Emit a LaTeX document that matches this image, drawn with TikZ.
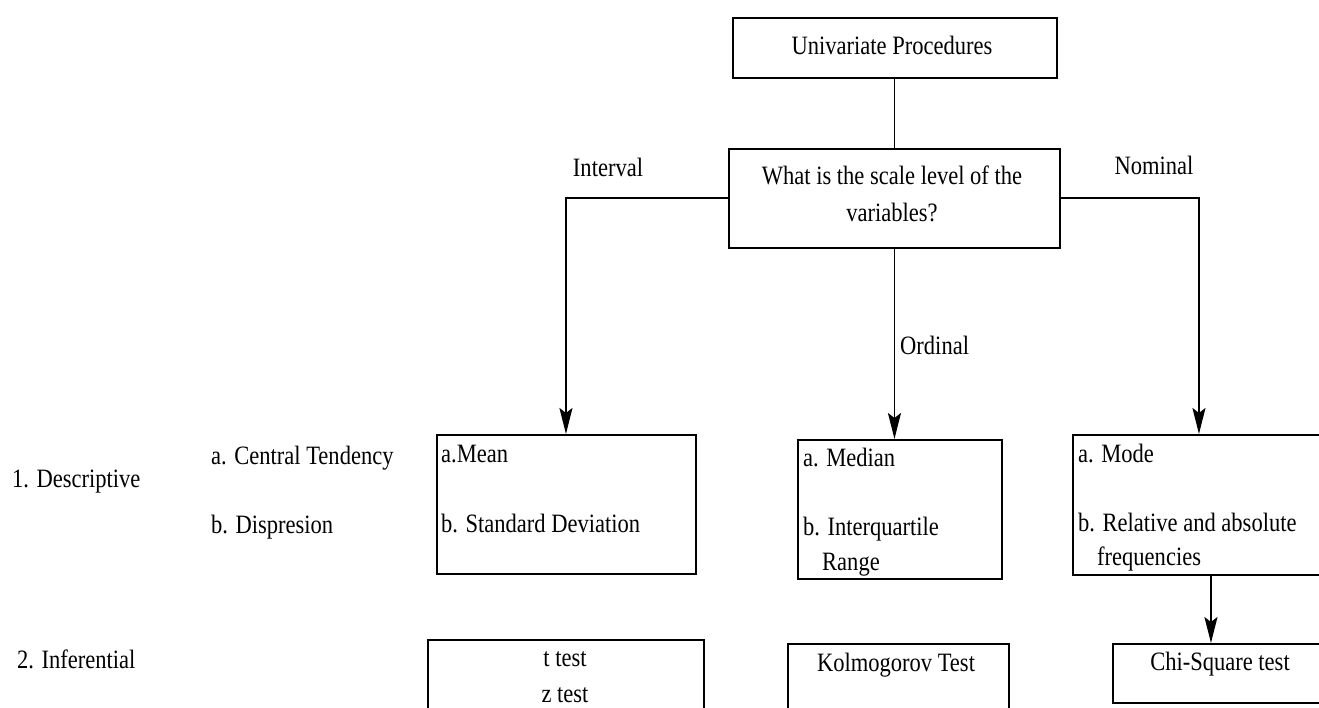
\documentclass[tikz,border=0pt]{standalone}
\usepackage{fontspec}
\setmainfont{Liberation Serif}[FakeStretch=0.85]
\usetikzlibrary{arrows.meta}
\begin{document}
\begin{tikzpicture}[x=1pt,y=-1pt,
  lbl/.style={inner sep=0pt,font=\fontsize{26.5}{35}\selectfont},
  box/.style={draw,line width=1.9pt,inner sep=0pt,anchor=north west},
  link/.style={line width=1.9pt},
  arr/.style={link,-{Stealth[length=26pt,width=13pt,inset=5pt]}}]
\clip (0,0) rectangle (1319,708);
\fill[white] (0,0) rectangle (1319,708);

% boxes, given by their top-left corner and size
\node[box,minimum width=324pt,minimum height=60pt] (top) at (732,17) {};
\node[box,minimum width=331pt,minimum height=99pt] (q) at (728,148) {};
\node[box,minimum width=259pt,minimum height=139pt] (mean) at (436,434) {};
\node[box,minimum width=204pt,minimum height=139pt] (median) at (797,439) {};
\node[box,minimum width=258pt,minimum height=140pt] (mode) at (1072,434) {};
\node[box,minimum width=276pt,minimum height=106pt] (ttest) at (427,639) {};
\node[box,minimum width=221pt,minimum height=102pt] (kol) at (787,643) {};
\node[box,minimum width=218pt,minimum height=59pt] (chi) at (1112,643) {};

% box texts
\node[lbl,anchor=base] (t1) at (892,55) {Univariate Procedures};
\node[lbl,anchor=base] (q1) at (892,185) {What is the scale level of the};
\node[lbl,anchor=base] (q2) at (892,222) {variables?};
\node[lbl,anchor=base west] (m1) at (441,462) {a.Mean};
\node[lbl,anchor=base west] (m2) at (441,532) {b. Standard Deviation};
\node[lbl,anchor=base west] (d1) at (803,466) {a. Median};
\node[lbl,anchor=base west] (d2) at (803,535) {b. Interquartile};
\node[lbl,anchor=base west] (d3) at (822,570) {Range};
\node[lbl,anchor=base west] (o1) at (1078,462) {a. Mode};
\node[lbl,anchor=base west] (o2) at (1078,531) {b. Relative and absolute};
\node[lbl,anchor=base west] (o3) at (1097,565) {frequencies};
\node[lbl,anchor=base] (tt1) at (565,666) {t test};
\node[lbl,anchor=base] (tt2) at (565,702) {z test};
\node[lbl,anchor=base] (k1) at (896,671) {Kolmogorov Test};
\node[lbl,anchor=base] (c1) at (1220,670) {Chi-Square test};

% row and branch labels
\node[lbl,anchor=base west] (desc) at (12,487) {1. Descriptive};
\node[lbl,anchor=base west] (cent) at (211,464) {a. Central Tendency};
\node[lbl,anchor=base west] (disp) at (211,533) {b. Dispresion};
\node[lbl,anchor=base west] (infer) at (17,668) {2. Inferential};
\node[lbl,anchor=base] (interval) at (608,177) {Interval};
\node[lbl,anchor=base] (nominal) at (1154,175) {Nominal};
\node[lbl,anchor=base west] (ordinal) at (900,355) {Ordinal};

% connectors
\draw[link] (top.south -| q.north) -- (q.north);
\draw[arr] (q.west) -| ([xshift=-0.5pt]mean.north);
\draw[arr] (q.south) -- (q.south |- median.north);
\draw[arr] (q.east) -| ([xshift=-3pt]mode.north);
\draw[arr] ([xshift=-11pt]chi.north |- mode.south) -- ([xshift=-11pt]chi.north);
\end{tikzpicture}
\end{document}
